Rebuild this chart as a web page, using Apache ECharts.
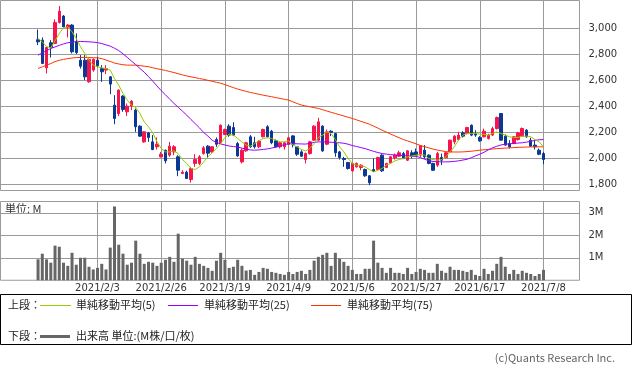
<!DOCTYPE html>
<html><head><meta charset="utf-8">
<script src="https://cdn.jsdelivr.net/npm/echarts@6/dist/echarts.min.js"></script>
<style>html,body{margin:0;padding:0;background:#fff}#c{width:633px;height:372px}</style>
</head><body><div id="c"></div>
<script>
const dates = ['2021/1/14','2021/1/15','2021/1/18','2021/1/19','2021/1/20','2021/1/21','2021/1/22','2021/1/25','2021/1/26','2021/1/27','2021/1/28','2021/1/29',
'2021/2/1','2021/2/2','2021/2/3','2021/2/4','2021/2/5','2021/2/8','2021/2/9','2021/2/10','2021/2/12','2021/2/15','2021/2/16','2021/2/17','2021/2/18','2021/2/19','2021/2/22','2021/2/24','2021/2/25','2021/2/26',
'2021/3/1','2021/3/2','2021/3/3','2021/3/4','2021/3/5','2021/3/8','2021/3/9','2021/3/10','2021/3/11','2021/3/12','2021/3/15','2021/3/16','2021/3/17','2021/3/18','2021/3/19','2021/3/22','2021/3/23','2021/3/24','2021/3/25','2021/3/26','2021/3/29','2021/3/30','2021/3/31',
'2021/4/1','2021/4/2','2021/4/5','2021/4/6','2021/4/7','2021/4/8','2021/4/9','2021/4/12','2021/4/13','2021/4/14','2021/4/15','2021/4/16','2021/4/19','2021/4/20','2021/4/21','2021/4/22','2021/4/23','2021/4/26','2021/4/27','2021/4/28','2021/4/30',
'2021/5/6','2021/5/7','2021/5/10','2021/5/11','2021/5/12','2021/5/13','2021/5/14','2021/5/17','2021/5/18','2021/5/19','2021/5/20','2021/5/21','2021/5/24','2021/5/25','2021/5/26','2021/5/27','2021/5/28','2021/5/31',
'2021/6/1','2021/6/2','2021/6/3','2021/6/4','2021/6/7','2021/6/8','2021/6/9','2021/6/10','2021/6/11','2021/6/14','2021/6/15','2021/6/16','2021/6/17','2021/6/18','2021/6/21','2021/6/22','2021/6/23','2021/6/24','2021/6/25','2021/6/28','2021/6/29','2021/6/30',
'2021/7/1','2021/7/2','2021/7/5','2021/7/6','2021/7/7','2021/7/8'];

const open = [2913,2910,2697,2890,2885,3046,3095,3008,3026,2900,2756,2756,2590,2680,2756,2692,2680,2628,2410,2346,
2480,2359,2403,2372,2249,2128,2197,2128,2090,2013,2064,2026,2051,2013,1885,1895,1838,1962,1962,2038,
2095,2051,2146,2121,2185,2249,2238,2115,1974,2059,2167,2121,2090,2167,2244,2210,2136,2090,2090,2110,
2174,2090,2051,1992,2038,2141,2141,2249,2110,2210,2192,2051,2000,1969,1905,1936,1931,1915,1867,1915,
1915,2026,1931,1967,2005,2018,2038,1987,2044,2051,2026,2064,2026,1962,1949,2008,2008,2051,2128,2146,
2197,2192,2256,2192,2162,2167,2154,2180,2230,2346,2172,2115,2115,2146,2172,2218,2141,2103,2064,2038];
const close = [2897,2731,2854,2854,3046,3133,3013,3026,2821,2815,2710,2628,2762,2762,2713,2667,2692,2572,2308,2526,
2377,2403,2441,2244,2172,2205,2162,2069,2110,2033,1982,2095,2090,1910,1895,1846,1923,1992,2013,2082,
2041,2090,2110,2256,2223,2180,2180,2020,2064,2121,2090,2090,2133,2223,2167,2121,2090,2121,2121,2159,
2110,2033,2018,2038,2128,2249,2282,2059,2205,2200,2044,2008,1992,1923,1962,1962,1949,1867,1813,1903,
2008,1905,1962,2013,2026,2044,2000,2059,2018,2026,2098,2013,1962,1910,2038,1987,2044,2141,2172,2180,
2172,2238,2180,2180,2136,2210,2180,2230,2315,2141,2103,2090,2167,2197,2231,2167,2095,2090,2033,1992];
const low = [2872,2726,2654,2777,2880,3038,3008,2931,2808,2803,2692,2603,2582,2667,2705,2590,2649,2495,2264,2326,
2359,2326,2372,2205,2167,2121,2128,2064,2069,2008,1962,2013,2026,1864,1880,1843,1815,1936,1949,2030,
2005,2045,2090,2115,2180,2167,2172,2013,1962,2051,2082,2077,2080,2162,2162,2110,2082,2077,2069,2103,
2085,2020,2013,1962,2030,2136,2136,2051,2103,2172,2013,1992,1936,1915,1897,1930,1910,1859,1795,1897,
1910,1897,1926,1962,1992,2013,1995,1980,2000,2018,2013,2000,1956,1905,1936,1949,2000,2046,2110,2141,
2162,2185,2172,2167,2128,2162,2146,2172,2223,2138,2098,2077,2110,2138,2167,2160,2090,2069,2026,1956];
const high = [2992,2931,2859,2910,3070,3172,3103,3033,3033,2962,2795,2795,2769,2770,2782,2718,2718,2633,2487,2531,
2487,2423,2449,2385,2256,2210,2205,2180,2162,2051,2069,2128,2103,2026,1910,1906,1936,2033,2026,2095,
2103,2095,2162,2262,2230,2264,2279,2128,2077,2128,2180,2167,2141,2230,2256,2220,2146,2128,2128,2167,
2180,2095,2064,2046,2136,2256,2313,2256,2223,2218,2197,2059,2013,1974,1967,1969,1956,1923,1872,2000,
2013,2033,1967,2020,2038,2059,2051,2064,2064,2077,2103,2103,2033,1967,2051,2038,2051,2146,2180,2205,
2210,2244,2262,2218,2172,2230,2190,2244,2323,2349,2185,2141,2172,2205,2238,2226,2160,2141,2077,2051];

const ma5 = [2923,2897,2862,2850,2905,2962,3005,3013,2974,2923,2859,2808,2756,2718,2705,2697,2692,2679,2615,2564,
2500,2449,2410,2392,2346,2282,2244,2197,2130,2077,2051,2051,2059,2038,1992,1962,1923,1915,1936,1974,
2013,2044,2077,2115,2162,2187,2180,2154,2128,2103,2095,2115,2136,2154,2159,2154,2141,2128,2128,2136,
2103,2090,2069,2059,2077,2115,2162,2180,2205,2192,2146,2090,2051,2000,1962,1949,1944,1936,1915,1897,
1910,1923,1949,1962,1982,1992,2000,2013,2018,2026,2031,2026,2000,1992,1987,1992,2013,2051,2090,2141,
2180,2192,2192,2192,2187,2185,2180,2192,2205,2192,2180,2167,2162,2162,2172,2172,2167,2146,2128,2090];
const ma25 = [2795,2812,2829,2846,2858,2870,2881,2890,2895,2899,2900,2899,2897,2895,2891,2884,2874,2864,2848,2830,
2805,2778,2749,2722,2692,2664,2630,2595,2558,2522,2490,2456,2424,2394,2364,2334,2300,2268,2236,2200,
2172,2140,2124,2112,2104,2096,2092,2088,2080,2072,2066,2064,2066,2070,2074,2080,2088,2096,2108,2112,
2115,2113,2112,2111,2116,2124,2128,2128,2127,2125,2123,2121,2117,2110,2100,2092,2084,2076,2066,2055,
2046,2038,2034,2030,2027,2025,2022,2020,2018,2016,2008,1994,1984,1977,1975,1974,1974,1975,1978,1982,
1988,1994,2006,2020,2033,2048,2066,2082,2094,2104,2110,2113,2116,2119,2121,2126,2132,2140,2144,2146];
const ma75 = [2692,2705,2718,2730,2745,2755,2762,2768,2773,2776,2777,2777,2776,2775,2774,2768,2757,2746,2734,2727,
2721,2718,2718,2718,2714,2710,2706,2698,2690,2684,2677,2669,2661,2652,2643,2635,2628,2622,2615,2609,
2601,2594,2586,2579,2568,2556,2545,2534,2525,2516,2508,2501,2494,2487,2481,2475,2468,2462,2455,2449,
2436,2423,2411,2404,2398,2391,2385,2375,2365,2355,2346,2336,2327,2317,2308,2297,2286,2275,2264,2249,
2234,2218,2203,2188,2174,2160,2146,2135,2124,2113,2100,2091,2082,2072,2065,2059,2053,2051,2050,2050,
2051,2053,2056,2060,2064,2067,2070,2073,2076,2078,2080,2082,2084,2086,2087,2088,2089,2090,2090,2090];

const volume = [0.93,1.18,0.93,0.78,1.54,1.49,0.78,0.64,1.22,0.69,1.00,1.00,0.60,0.48,0.55,0.73,0.48,1.45,3.28,1.58,
1.18,0.69,0.78,1.76,1.18,0.73,0.82,0.78,0.64,0.78,0.91,1.04,0.82,2.07,0.96,0.87,0.69,1.04,0.73,0.64,
0.55,0.42,0.87,1.22,0.91,0.55,0.60,0.91,0.64,0.43,0.46,0.24,0.37,0.55,0.51,0.37,0.33,0.28,0.24,0.37,
0.28,0.37,0.42,0.28,0.46,0.87,1.04,1.13,1.22,0.64,1.22,0.96,0.82,0.64,0.46,0.28,0.28,0.51,0.51,1.76,
0.78,0.55,0.33,0.55,0.33,0.33,0.28,0.55,0.28,0.37,0.51,0.46,0.33,0.33,0.73,0.42,0.33,0.60,0.46,0.46,
0.42,0.37,0.46,0.24,0.19,0.51,0.28,0.42,0.73,1.04,0.60,0.28,0.46,0.28,0.42,0.33,0.28,0.19,0.28,0.46];

const xTickLabels = ['2021/2/3','2021/2/26','2021/3/19','2021/4/9','2021/5/6','2021/5/27','2021/6/17','2021/7/8'];
const priceTicks = [1800,2000,2200,2400,2600,2800,3000];
const volumeTicks = [1,2,3];

const xTickIdx = xTickLabels.map(d => dates.indexOf(d));
const GRID_COLOR = '#9a9a9a';
const UP = '#f7144a', DOWN = '#0b3894';
const LABEL_FONT = {fontFamily: 'DejaVu Sans', fontSize: 10, color: '#333'};
const JP = '"Noto Sans CJK JP", sans-serif';

const chart = echarts.init(document.getElementById('c'), null, {renderer: 'canvas'});

function xAxisFor(g) {
  return {
    type: 'value', gridIndex: g, min: -8.84, max: 127.48,
    axisLine: {show: false},
    axisTick: {show: false, customValues: xTickIdx},
    axisLabel: Object.assign({show: g === 1, customValues: xTickIdx, margin: 3,
      formatter: v => dates[Math.round(v)] || ''}, LABEL_FONT),
    splitLine: {show: true, lineStyle: {color: GRID_COLOR, width: 1}}
  };
}

const txt = (x, y, s, extra) => ({type: 'text', x: x, y: y, silent: true,
  style: Object.assign({text: s, fill: '#222', font: '11px ' + JP, textVerticalAlign: 'middle'}, extra || {})});
const seg = (x1, x2, y, color, w) => ({type: 'line', silent: true,
  shape: {x1: x1, y1: y, x2: x2, y2: y}, style: {stroke: color, lineWidth: w}});

chart.setOption({
  animation: false,
  backgroundColor: '#fff',
  grid: [
    {left: 0.5, top: 0.5, width: 579, height: 190, show: true, borderColor: GRID_COLOR, borderWidth: 1},
    {left: 0.5, top: 201.5, width: 579, height: 78.75, show: true, borderColor: GRID_COLOR, borderWidth: 1}
  ],
  xAxis: [xAxisFor(0), xAxisFor(1)],
  yAxis: [
    {type: 'value', gridIndex: 0, position: 'right', min: 1754, max: 3215,
     axisLine: {show: false},
     axisTick: {show: true, length: 5, customValues: priceTicks, lineStyle: {color: GRID_COLOR}},
     axisLabel: Object.assign({customValues: priceTicks, margin: 9,
       formatter: v => v.toLocaleString('en-US')}, LABEL_FONT),
     splitLine: {show: true, lineStyle: {color: GRID_COLOR, width: 1}}},
    {type: 'value', gridIndex: 1, position: 'right', min: 0, max: 3.5,
     axisLine: {show: false},
     axisTick: {show: true, length: 5, customValues: volumeTicks, lineStyle: {color: GRID_COLOR}},
     axisLabel: Object.assign({customValues: volumeTicks, margin: 9,
       formatter: v => v + 'M'}, LABEL_FONT),
     splitLine: {show: true, lineStyle: {color: GRID_COLOR, width: 1}}}
  ],
  series: [
    {type: 'candlestick', xAxisIndex: 0, yAxisIndex: 0, barWidth: 3,
     data: dates.map((d, i) => [i, open[i], close[i], low[i], high[i]]),
     encode: {x: 0, y: [1, 2, 3, 4]},
     itemStyle: {color: UP, color0: DOWN, borderColor: UP, borderColor0: DOWN, borderWidth: 1}},
    {type: 'line', xAxisIndex: 0, yAxisIndex: 0, symbol: 'none', data: ma75.map((v, i) => [i, v]),
     lineStyle: {color: '#ff3300', width: 1}},
    {type: 'line', xAxisIndex: 0, yAxisIndex: 0, symbol: 'none', data: ma25.map((v, i) => [i, v]),
     lineStyle: {color: '#9900ff', width: 1}},
    {type: 'line', xAxisIndex: 0, yAxisIndex: 0, symbol: 'none', data: ma5.map((v, i) => [i, v]),
     lineStyle: {color: '#99cc00', width: 1}},
    {type: 'bar', xAxisIndex: 1, yAxisIndex: 1, barWidth: 3, data: volume.map((v, i) => [i, v]),
     itemStyle: {color: '#666'}}
  ],
  graphic: [
    txt(5, 209, '単位: M', {fill: '#333'}),
    {type: 'rect', silent: true, shape: {x: 0.5, y: 294.5, width: 631, height: 50},
     style: {fill: 'none', stroke: '#000', lineWidth: 1}},
    txt(8, 305, '上段：'),
    seg(40, 71, 305.5, '#99cc00', 1),
    txt(76, 305, '単純移動平均(5)'),
    seg(168, 198, 305.5, '#9900ff', 1),
    txt(204, 305, '単純移動平均(25)'),
    seg(311, 341, 305.5, '#ff3300', 1),
    txt(347, 305, '単純移動平均(75)'),
    txt(8, 336, '下段：'),
    seg(40, 70, 336.5, '#666', 3),
    txt(76, 336, '出来高 単位:(M株/口/枚)'),
    txt(615, 358, '(c)Quants Research Inc.', {fill: '#666', textAlign: 'right'})
  ]
});
</script>
</body></html>
